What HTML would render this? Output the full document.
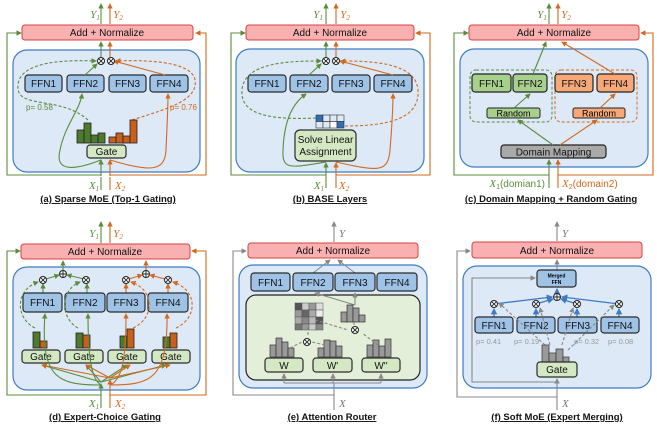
<!DOCTYPE html>
<html><head><meta charset="utf-8"><style>
html,body{margin:0;padding:0;background:#fff}
svg{display:block}
text{font-family:"Liberation Sans",sans-serif}
.ffn{fill:#9fc3e6;stroke:#2b2b2b;stroke-width:1.2}
.addn{fill:#f9b0b0;stroke:#d94040;stroke-width:1}
.blue{fill:#dde9f6;stroke:#3d7cc4;stroke-width:1.2}
.gate{fill:#d5e8c4;stroke:#2b2b2b;stroke-width:1.2}
.t{font-size:10px;fill:#111;text-anchor:middle}
.cap{font-size:9.5px;font-weight:bold;fill:#111;text-anchor:middle;text-decoration:underline}
.g{stroke:#5b8c3c;fill:none;stroke-width:1.1}
.o{stroke:#d2691e;fill:none;stroke-width:1.1}
.k{stroke:#888;fill:none;stroke-width:1.1}
.bl{stroke:#3d7cc4;fill:none;stroke-width:1.3}
.d{stroke-dasharray:3,2}
.gl{fill:#5b8c3c;font-size:11px;font-family:"Liberation Serif",serif;font-style:italic;text-anchor:middle}
.ol{fill:#d2691e;font-size:11px;font-family:"Liberation Serif",serif;font-style:italic;text-anchor:middle}
.kl{fill:#777;font-size:11px;font-family:"Liberation Serif",serif;font-style:italic}
.ot{font-size:10px;fill:#111;text-anchor:middle}
</style></head><body>
<svg width="657" height="431" viewBox="0 0 657 431" xmlns="http://www.w3.org/2000/svg">
<defs>
<marker id="ag" viewBox="0 0 6 6" refX="5" refY="3" markerWidth="5" markerHeight="5" orient="auto"><path d="M0,0L6,3L0,6z" fill="#5b8c3c"/></marker>
<marker id="ao" viewBox="0 0 6 6" refX="5" refY="3" markerWidth="5" markerHeight="5" orient="auto"><path d="M0,0L6,3L0,6z" fill="#d2691e"/></marker>
<marker id="ak" viewBox="0 0 6 6" refX="5" refY="3" markerWidth="5" markerHeight="5" orient="auto"><path d="M0,0L6,3L0,6z" fill="#888"/></marker>
<marker id="ab" viewBox="0 0 6 6" refX="5" refY="3" markerWidth="5" markerHeight="5" orient="auto"><path d="M0,0L6,3L0,6z" fill="#3d7cc4"/></marker>
<g id="ot"><circle r="3.5" fill="#fff" stroke="#222" stroke-width="1"/><path d="M-2.4,-2.4L2.4,2.4M-2.4,2.4L2.4,-2.4" stroke="#222" stroke-width="0.9"/></g>
<g id="op"><circle r="3.5" fill="#fff" stroke="#222" stroke-width="1"/><path d="M-3.5,0H3.5M0,-3.5V3.5" stroke="#222" stroke-width="0.9"/></g>
</defs>

<!-- ===== (a) ===== -->
<path class="g" d="M101,175 H7 V33 H21" marker-end="url(#ag)"/>
<path class="o" d="M110,175 H206 V33 H196" marker-end="url(#ao)"/>
<rect class="blue" x="13" y="50" width="187" height="122" rx="14"/>
<rect class="addn" x="22" y="25" width="171" height="15" rx="3"/>
<text class="t" x="107" y="36">Add + Normalize</text>
<path class="g" d="M101,24 V4" marker-end="url(#ag)"/><path class="o" d="M110,24 V4" marker-end="url(#ao)"/>
<text class="gl" x="95" y="18">Y<tspan font-size="7" dy="2">1</tspan></text>
<text class="ol" x="118" y="18">Y<tspan font-size="7" dy="2">2</tspan></text>
<path class="g" d="M101,57 V42" marker-end="url(#ag)"/><path class="o" d="M110,57 V42" marker-end="url(#ao)"/>
<rect class="ffn" x="25" y="75" width="37" height="17" rx="3"/><text class="t" x="43.5" y="87">FFN1</text>
<rect class="ffn" x="67" y="75" width="37" height="17" rx="3"/><text class="t" x="85.5" y="87">FFN2</text>
<rect class="ffn" x="109" y="75" width="37" height="17" rx="3"/><text class="t" x="127.5" y="87">FFN3</text>
<rect class="ffn" x="150" y="75" width="38" height="17" rx="3"/><text class="t" x="169" y="87">FFN4</text>
<path class="g d" d="M88,120 C60,95 15,110 18,85 C20,60 70,60 96,61" marker-end="url(#ag)"/>
<path class="o d" d="M132,120 C170,108 198,100 195,80 C192,60 140,60 116,61" marker-end="url(#ao)"/>
<path class="g" d="M85,75 L97,64" marker-end="url(#ag)"/>
<path class="o" d="M165,75 L114,61" marker-end="url(#ao)"/>
<use href="#ot" x="101" y="61"/><use href="#ot" x="111" y="61"/>
<text x="26" y="110" font-size="8" fill="#5b8c3c" font-family="Liberation Mono,monospace">p= 0.58</text>
<text x="170" y="110" font-size="8" fill="#d2691e" font-family="Liberation Mono,monospace">p= 0.76</text>
<g stroke="#222" stroke-width="0.8" fill="#4e7a2e"><rect x="77" y="130" width="7" height="13"/><rect x="84" y="123" width="7" height="20"/><rect x="91" y="135" width="7" height="8"/><rect x="98" y="133" width="7" height="10"/></g>
<g stroke="#222" stroke-width="0.8" fill="#c8601c"><rect x="109" y="137" width="7" height="6"/><rect x="116" y="133" width="7" height="10"/><rect x="123" y="136" width="7" height="7"/><rect x="130" y="120" width="7" height="23"/></g>
<rect class="gate" x="87" y="145" width="39" height="13" rx="3"/><text class="t" x="106.5" y="155">Gate</text>
<path class="g" d="M101,176 V160" marker-end="url(#ag)"/><path class="o" d="M110,176 V160" marker-end="url(#ao)"/>
<path class="g" d="M101,160 C70,172 55,170 60,150 C65,125 80,110 82,94" marker-end="url(#ag)"/>
<path class="o" d="M110,160 C150,172 165,172 166,150 C167,125 168,110 168,94" marker-end="url(#ao)"/>
<path class="g" d="M101,190 V177"/><path class="o" d="M110,190 V177"/>
<text class="gl" x="94" y="189">X<tspan font-size="7" dy="2">1</tspan></text>
<text class="ol" x="120" y="189">X<tspan font-size="7" dy="2">2</tspan></text>
<text class="cap" x="108" y="202">(a) Sparse MoE (Top-1 Gating)</text>

<!-- ===== (b) ===== -->
<path class="g" d="M326,175 H231 V33 H245" marker-end="url(#ag)"/>
<path class="o" d="M336,175 H430 V33 H416" marker-end="url(#ao)"/>
<rect class="blue" x="236" y="49" width="188" height="123" rx="14"/>
<rect class="addn" x="246" y="25" width="168" height="15" rx="3"/>
<text class="t" x="330" y="36">Add + Normalize</text>
<path class="g" d="M326,24 V4" marker-end="url(#ag)"/><path class="o" d="M336,24 V4" marker-end="url(#ao)"/>
<text class="gl" x="318" y="18">Y<tspan font-size="7" dy="2">1</tspan></text>
<text class="ol" x="345" y="18">Y<tspan font-size="7" dy="2">2</tspan></text>
<path class="g" d="M326,57 V42" marker-end="url(#ag)"/><path class="o" d="M336,57 V42" marker-end="url(#ao)"/>
<rect class="ffn" x="248" y="75" width="38" height="17" rx="3"/><text class="t" x="267" y="87">FFN1</text>
<rect class="ffn" x="290" y="75" width="38" height="17" rx="3"/><text class="t" x="309" y="87">FFN2</text>
<rect class="ffn" x="332" y="75" width="38" height="17" rx="3"/><text class="t" x="351" y="87">FFN3</text>
<rect class="ffn" x="374" y="75" width="38" height="17" rx="3"/><text class="t" x="393" y="87">FFN4</text>
<path class="g d" d="M316,118 C270,120 240,115 242,90 C244,62 290,61 321,61" marker-end="url(#ag)"/>
<path class="o d" d="M345,126 C390,126 420,118 418,90 C416,62 370,61 341,61" marker-end="url(#ao)"/>
<path class="g" d="M309,75 L321,64" marker-end="url(#ag)"/>
<path class="o" d="M393,75 L340,61" marker-end="url(#ao)"/>
<use href="#ot" x="326" y="61"/><use href="#ot" x="336" y="61"/>
<g stroke="#333" stroke-width="0.6"><rect x="316" y="115" width="7" height="6.5" fill="#2f6db5"/><rect x="323" y="115" width="7" height="6.5" fill="#dde9f6"/><rect x="330" y="115" width="7" height="6.5" fill="#dde9f6"/><rect x="337" y="115" width="7" height="6.5" fill="#dde9f6"/>
<rect x="316" y="121.5" width="7" height="6.5" fill="#dde9f6"/><rect x="323" y="121.5" width="7" height="6.5" fill="#dde9f6"/><rect x="330" y="121.5" width="7" height="6.5" fill="#fff"/><rect x="337" y="121.5" width="7" height="6.5" fill="#2f6db5"/></g>
<rect class="gate" x="295" y="130" width="61" height="31" rx="5"/><text class="t" x="325.5" y="143">Solve Linear</text><text class="t" x="325.5" y="155">Assignment</text>
<path class="g" d="M326,188 V163" marker-end="url(#ag)"/><path class="o" d="M336,188 V163" marker-end="url(#ao)"/>
<path class="g" d="M326,162 C290,168 282,170 283,150 C284,125 290,105 306,94" marker-end="url(#ag)"/>
<path class="o" d="M336,162 C380,172 388,172 390,150 C392,125 393,110 393,94" marker-end="url(#ao)"/>
<text class="gl" x="319" y="189">X<tspan font-size="7" dy="2">1</tspan></text>
<text class="ol" x="344" y="189">X<tspan font-size="7" dy="2">2</tspan></text>
<text class="cap" x="330" y="202">(b) BASE Layers</text>

<!-- ===== (c) ===== -->
<path class="g" d="M549,175 H454 V33 H468" marker-end="url(#ag)"/>
<path class="o" d="M558,175 H653 V33 H641" marker-end="url(#ao)"/>
<rect class="blue" x="460" y="49" width="188" height="118" rx="14"/>
<rect class="addn" x="469" y="25" width="170" height="15" rx="3"/>
<text class="t" x="554" y="36">Add + Normalize</text>
<path class="g" d="M549,24 V4" marker-end="url(#ag)"/><path class="o" d="M558,24 V4" marker-end="url(#ao)"/>
<text class="gl" x="542" y="18">Y<tspan font-size="7" dy="2">1</tspan></text>
<text class="ol" x="566" y="18">Y<tspan font-size="7" dy="2">2</tspan></text>
<rect x="470" y="70" width="82" height="52" rx="6" fill="none" stroke="#5b8c3c" stroke-dasharray="3,2"/>
<rect x="555" y="70" width="82" height="52" rx="6" fill="none" stroke="#d2691e" stroke-dasharray="3,2"/>
<rect x="472" y="74" width="39" height="18" rx="3" fill="#a8d08d" stroke="#222" stroke-width="1.2"/><text class="t" x="491.5" y="87">FFN1</text>
<rect x="513" y="74" width="34" height="18" rx="3" fill="#a8d08d" stroke="#222" stroke-width="1.2"/><text class="t" x="530" y="87">FFN2</text>
<rect x="555" y="74" width="38" height="18" rx="3" fill="#f6a878" stroke="#222" stroke-width="1.2"/><text class="t" x="574" y="87">FFN3</text>
<rect x="597" y="74" width="37" height="18" rx="3" fill="#f6a878" stroke="#222" stroke-width="1.2"/><text class="t" x="615.5" y="87">FFN4</text>
<path class="g" d="M533,74 L546,42" marker-end="url(#ag)"/>
<path class="o" d="M615,74 L562,42" marker-end="url(#ao)"/>
<rect x="487" y="108" width="53" height="10" rx="2" fill="#a8d08d" stroke="#222" stroke-width="1"/><text x="513.5" y="116.5" font-size="9" text-anchor="middle">Random</text>
<rect x="573" y="108" width="52" height="10" rx="2" fill="#f6a878" stroke="#222" stroke-width="1"/><text x="599" y="116.5" font-size="9" text-anchor="middle">Random</text>
<path class="g" d="M514,108 L530,94" marker-end="url(#ag)"/>
<path class="o" d="M600,108 L615,94" marker-end="url(#ao)"/>
<rect x="501" y="145" width="105" height="13" rx="3" fill="#a9a9a9" stroke="#222" stroke-width="1.2"/><text class="t" x="553.5" y="155.5">Domain Mapping</text>
<path class="g" d="M553,145 L518,120" marker-end="url(#ag)"/>
<path class="o" d="M560,145 L597,120" marker-end="url(#ao)"/>
<path class="g" d="M549,188 V160" marker-end="url(#ag)"/><path class="o" d="M558,188 V160" marker-end="url(#ao)"/>
<text x="545" y="187" font-size="10" fill="#5b8c3c" text-anchor="end"><tspan font-family="Liberation Serif,serif" font-style="italic" font-size="11">X</tspan><tspan font-size="7" dy="2">1</tspan><tspan dy="-2">(domian1)</tspan></text>
<text x="562" y="187" font-size="10" fill="#d2691e"><tspan font-family="Liberation Serif,serif" font-style="italic" font-size="11">X</tspan><tspan font-size="7" dy="2">2</tspan><tspan dy="-2">(domain2)</tspan></text>
<text class="cap" x="551" y="202">(c) Domain Mapping + Random Gating</text>

<!-- ===== (d) ===== -->
<path class="g" d="M101,395 H7 V251 H20" marker-end="url(#ag)"/>
<path class="o" d="M110,395 H206 V251 H192" marker-end="url(#ao)"/>
<rect class="blue" x="13" y="267" width="187" height="123" rx="14"/>
<rect class="addn" x="21" y="244" width="169" height="15" rx="3"/>
<text class="t" x="105" y="255">Add + Normalize</text>
<path class="g" d="M101,243 V222" marker-end="url(#ag)"/><path class="o" d="M110,243 V222" marker-end="url(#ao)"/>
<text class="gl" x="94" y="237">Y<tspan font-size="7" dy="2">1</tspan></text>
<text class="ol" x="118" y="237">Y<tspan font-size="7" dy="2">2</tspan></text>
<path class="g" d="M63,270 V261" marker-end="url(#ag)"/><path class="o" d="M146,270 V261" marker-end="url(#ao)"/>
<use href="#op" x="63" y="274"/><use href="#op" x="146" y="274"/>
<path class="g" d="M43,293 V284" marker-end="url(#ag)"/><path class="g" d="M87,293 V284" marker-end="url(#ag)"/>
<path class="o" d="M126,293 V284" marker-end="url(#ao)"/><path class="o" d="M168,293 V284" marker-end="url(#ao)"/>
<path class="g" d="M46,279 L59,275" marker-end="url(#ag)"/><path class="g" d="M84,279 L67,275" marker-end="url(#ag)"/>
<path class="o" d="M129,279 L142,275" marker-end="url(#ao)"/><path class="o" d="M165,279 L150,275" marker-end="url(#ao)"/>
<use href="#ot" x="43" y="280"/><use href="#ot" x="86" y="280"/><use href="#ot" x="126" y="280"/><use href="#ot" x="168" y="280"/>
<rect class="ffn" x="23" y="293" width="39" height="19" rx="3"/><text class="t" x="42.5" y="306">FFN1</text>
<rect class="ffn" x="65" y="293" width="40" height="19" rx="3"/><text class="t" x="85" y="306">FFN2</text>
<rect class="ffn" x="107" y="293" width="38" height="19" rx="3"/><text class="t" x="126" y="306">FFN3</text>
<rect class="ffn" x="148" y="293" width="40" height="19" rx="3"/><text class="t" x="168" y="306">FFN4</text>
<path class="g d" d="M35,328 C15,318 15,290 38,282" marker-end="url(#ag)"/>
<path class="g d" d="M78,328 C60,318 60,290 80,282" marker-end="url(#ag)"/>
<path class="o d" d="M133,328 C155,318 155,290 131,282" marker-end="url(#ao)"/>
<path class="o d" d="M176,328 C198,318 198,290 173,282" marker-end="url(#ao)"/>
<g stroke="#222" stroke-width="0.8">
<rect x="33" y="332" width="7" height="16" fill="#4e7a2e"/><rect x="40" y="341" width="7" height="7" fill="#c8601c"/>
<rect x="76" y="333" width="7" height="15" fill="#4e7a2e"/><rect x="83" y="335" width="7" height="13" fill="#c8601c"/>
<rect x="120" y="336" width="7" height="12" fill="#4e7a2e"/><rect x="127" y="329" width="7" height="19" fill="#c8601c"/>
<rect x="163" y="337" width="7" height="11" fill="#4e7a2e"/><rect x="170" y="333" width="7" height="15" fill="#c8601c"/></g>
<rect class="gate" x="22" y="350" width="38" height="13" rx="3"/><text class="t" x="41" y="360">Gate</text>
<rect class="gate" x="65" y="350" width="38" height="13" rx="3"/><text class="t" x="84" y="360">Gate</text>
<rect class="gate" x="108" y="350" width="38" height="13" rx="3"/><text class="t" x="127" y="360">Gate</text>
<rect class="gate" x="152" y="350" width="38" height="13" rx="3"/><text class="t" x="171" y="360">Gate</text>
<path class="g" d="M101,382 L42,365" marker-end="url(#ag)"/><path class="g" d="M101,382 L86,365" marker-end="url(#ag)"/>
<path class="g" d="M101,382 L127,365" marker-end="url(#ag)"/><path class="g" d="M101,382 L166,365" marker-end="url(#ag)"/>
<path class="o" d="M110,378 L42,365" marker-end="url(#ao)"/><path class="o" d="M110,378 L86,365" marker-end="url(#ao)"/>
<path class="o" d="M110,378 L130,365" marker-end="url(#ao)"/><path class="o" d="M110,378 L170,365" marker-end="url(#ao)"/>
<path class="g" d="M101,385 C60,385 40,380 45,314" marker-end="url(#ag)"/>
<path class="g" d="M101,385 C92,380 88,360 88,314" marker-end="url(#ag)"/>
<path class="o" d="M110,385 C122,380 126,360 126,314" marker-end="url(#ao)"/>
<path class="o" d="M110,385 C150,385 168,380 167,314" marker-end="url(#ao)"/>
<path class="g" d="M101,408 V384" marker-end="url(#ag)"/><path class="o" d="M110,408 V380" marker-end="url(#ao)"/>
<text class="gl" x="94" y="407">X<tspan font-size="7" dy="2">1</tspan></text>
<text class="ol" x="120" y="407">X<tspan font-size="7" dy="2">2</tspan></text>
<text class="cap" x="105" y="420">(d) Expert-Choice Gating</text>

<!-- ===== (e) ===== -->
<path class="k" d="M334,395 H233 V251 H246" marker-end="url(#ak)"/>
<rect class="blue" x="239" y="265" width="188" height="123" rx="14"/>
<rect class="addn" x="248" y="243" width="170" height="15" rx="3"/>
<text class="t" x="333" y="254">Add + Normalize</text>
<path class="k" d="M334,242 V222" marker-end="url(#ak)"/><text class="kl" x="339" y="237">Y</text>
<path class="k" d="M313,273 L330,260" marker-end="url(#ak)"/><path class="k" d="M355,273 L338,260" marker-end="url(#ak)"/>
<rect class="ffn" x="251" y="273" width="39" height="18" rx="3"/><text class="t" x="270.5" y="286">FFN1</text>
<rect class="ffn" x="293" y="273" width="40" height="18" rx="3"/><text class="t" x="313" y="286">FFN2</text>
<rect class="ffn" x="335" y="273" width="40" height="18" rx="3"/><text class="t" x="355" y="286">FFN3</text>
<rect class="ffn" x="377" y="273" width="40" height="18" rx="3"/><text class="t" x="397" y="286">FFN4</text>
<rect x="246" y="295" width="174" height="85" rx="10" fill="#e3efd9" stroke="#222" stroke-width="1.2"/>
<path class="k" d="M355,305 L315,293" marker-end="url(#ak)"/><path class="k" d="M355,305 V293" marker-end="url(#ak)"/>
<g stroke="#555" stroke-width="0.5">
<rect x="295" y="303" width="7" height="7" fill="#555"/><rect x="302" y="303" width="7" height="7" fill="#ccc"/><rect x="309" y="303" width="7" height="7" fill="#999"/><rect x="316" y="303" width="7" height="7" fill="#ddd"/>
<rect x="295" y="310" width="7" height="7" fill="#999"/><rect x="302" y="310" width="7" height="7" fill="#666"/><rect x="309" y="310" width="7" height="7" fill="#aaa"/><rect x="316" y="310" width="7" height="7" fill="#eee"/>
<rect x="295" y="317" width="7" height="7" fill="#aaa"/><rect x="302" y="317" width="7" height="7" fill="#888"/><rect x="309" y="317" width="7" height="7" fill="#bbb"/><rect x="316" y="317" width="7" height="7" fill="#555"/>
<rect x="295" y="324" width="7" height="6" fill="#777"/><rect x="302" y="324" width="7" height="6" fill="#999"/><rect x="309" y="324" width="7" height="6" fill="#ccc"/><rect x="316" y="324" width="7" height="6" fill="#888"/></g>
<g fill="#999" stroke="#333" stroke-width="0.7">
<rect x="341" y="312" width="6" height="10"/><rect x="347" y="305" width="6" height="17"/><rect x="353" y="308" width="6" height="14"/><rect x="359" y="315" width="6" height="7"/>
<rect x="270" y="345" width="6" height="12"/><rect x="276" y="338" width="6" height="19"/><rect x="282" y="342" width="6" height="15"/><rect x="288" y="348" width="6" height="9"/>
<rect x="318" y="348" width="6" height="9"/><rect x="324" y="340" width="6" height="17"/><rect x="330" y="341" width="6" height="16"/><rect x="336" y="346" width="6" height="11"/>
<rect x="367" y="345" width="6" height="12"/><rect x="373" y="340" width="6" height="17"/><rect x="379" y="346" width="6" height="11"/><rect x="385" y="339" width="6" height="18"/></g>
<path class="k d" d="M290,348 L302,342" /><path class="k d" d="M325,345 L312,342"/><path class="k d" d="M308,335 V325"/>
<path class="k d" d="M315,320 L348,330"/><path class="k d" d="M378,345 L362,333"/><path class="k d" d="M354,330 V322"/>
<use href="#ot" x="307" y="342"/><use href="#ot" x="355" y="330"/>
<rect class="gate" x="265" y="358" width="38" height="14" rx="3"/><text class="t" x="284" y="369">W</text>
<rect class="gate" x="313" y="358" width="39" height="14" rx="3"/><text class="t" x="332.5" y="369">W'</text>
<rect class="gate" x="362" y="358" width="38" height="14" rx="3"/><text class="t" x="381" y="369">W''</text>
<path class="k" d="M284,383 H381"/><path class="k" d="M284,383 V374" marker-end="url(#ak)"/><path class="k" d="M333,383 V374" marker-end="url(#ak)"/><path class="k" d="M381,383 V374" marker-end="url(#ak)"/>
<path class="k" d="M334,410 V383"/><text class="kl" x="339" y="407">X</text>
<text class="cap" x="332" y="420">(e) Attention Router</text>

<!-- ===== (f) ===== -->
<path class="k" d="M557,397 H457 V251 H470" marker-end="url(#ak)"/>
<rect class="blue" x="463" y="266" width="188" height="122" rx="14"/>
<rect class="addn" x="472" y="242" width="170" height="16" rx="3"/>
<text class="t" x="557" y="254">Add + Normalize</text>
<path class="k" d="M557,241 V222" marker-end="url(#ak)"/><text class="kl" x="562" y="237">Y</text>
<path class="k" d="M557,270 V260" marker-end="url(#ak)"/>
<path class="k" d="M557,382 H472 V278 H535" marker-end="url(#ak)"/>
<rect class="ffn" x="537" y="270" width="39" height="17" rx="3"/>
<text x="556.5" y="277.5" font-size="5" font-weight="bold" text-anchor="middle">Merged</text><text x="556.5" y="284" font-size="5" font-weight="bold" text-anchor="middle">FFN</text>
<path class="bl" d="M557,294 V289" marker-end="url(#ab)"/>
<use href="#op" x="557" y="297"/>
<path class="bl" d="M494,304 L552,297" marker-end="url(#ab)"/><path class="bl" d="M536,304 L553,299" marker-end="url(#ab)"/>
<path class="bl" d="M577,304 L561,299" marker-end="url(#ab)"/><path class="bl" d="M619,304 L562,297" marker-end="url(#ab)"/>
<path class="bl" d="M494,317 V309" marker-end="url(#ab)"/><path class="bl" d="M536,317 V309" marker-end="url(#ab)"/><path class="bl" d="M577,317 V309" marker-end="url(#ab)"/><path class="bl" d="M619,317 V309" marker-end="url(#ab)"/>
<use href="#ot" x="494" y="304"/><use href="#ot" x="536" y="304"/><use href="#ot" x="577" y="304"/><use href="#ot" x="619" y="304"/>
<rect class="ffn" x="475" y="317" width="38" height="16" rx="3"/><text class="t" x="494" y="329">FFN1</text>
<rect class="ffn" x="517" y="317" width="38" height="16" rx="3"/><text class="t" x="536" y="329">FFN2</text>
<rect class="ffn" x="558" y="317" width="39" height="16" rx="3"/><text class="t" x="577.5" y="329">FFN3</text>
<rect class="ffn" x="601" y="317" width="38" height="16" rx="3"/><text class="t" x="620" y="329">FFN4</text>
<g font-size="7.5" fill="#999" font-family="Liberation Mono,monospace"><text x="476" y="344">p= 0.41</text><text x="514" y="344">p= 0.19</text><text x="574" y="344">p= 0.32</text><text x="608" y="344">p= 0.08</text></g>
<path class="k d" d="M545,345 L499,303" marker-end="url(#ak)"/><path class="k d" d="M550,345 L540,308" marker-end="url(#ak)"/>
<path class="k d" d="M562,345 L573,308" marker-end="url(#ak)"/><path class="k d" d="M568,350 L614,305" marker-end="url(#ak)"/>
<g fill="#999" stroke="#333" stroke-width="0.7"><rect x="542" y="345" width="7" height="17"/><rect x="549" y="353" width="7" height="9"/><rect x="556" y="349" width="7" height="13"/><rect x="563" y="357" width="6" height="5"/></g>
<rect class="gate" x="537" y="362" width="40" height="15" rx="3"/><text class="t" x="557" y="373">Gate</text>
<path class="k" d="M557,410 V379" marker-end="url(#ak)"/><text class="kl" x="562" y="407">X</text>
<text class="cap" x="557" y="420">(f) Soft MoE (Expert Merging)</text>
</svg>
</body></html>
